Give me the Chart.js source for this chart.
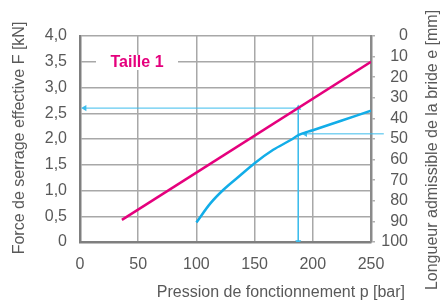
<!DOCTYPE html>
<html>
<head>
<meta charset="utf-8">
<script src="https://cdn.jsdelivr.net/npm/chart.js@4.4.1/dist/chart.umd.min.js"></script>
<style>
  html, body { margin: 0; padding: 0; background: #fff; }
  #wrap { width: 441px; height: 302px; }
</style>
</head>
<body>
<div id="wrap"><canvas id="chart"></canvas></div>
<script>
// ---- données ----
const forcePoints = [{ x: 36, y: 0.43 }, { x: 250, y: 3.5 }];          // Taille 1, F [kN]
const lengthCurveP = [100, 112, 123, 138, 150, 166, 181, 188, 200, 225, 250];
const lengthCurveF = [0.38, 0.75, 1.01, 1.30, 1.53, 1.79, 1.98, 2.08, 2.17, 2.36, 2.55];
const readP = 187.5;        // pression de lecture [bar]
const readF = 2.6;          // force lue [kN]
const readE = 47.5;         // longueur de bride [mm]
const pressureTicks = [0, 50, 100, 150, 200, 250];
const forceTicks = [0, 0.5, 1, 1.5, 2, 2.5, 3, 3.5, 4];
const lengthTicks = [0, 10, 20, 30, 40, 50, 60, 70, 80, 90, 100];

const magenta = '#e5007d';
const blue = '#12ade8';
const arrowBlue = '#3cbcec';
const textGray = '#595959';

Chart.defaults.font.family = "'Liberation Sans', Arial, sans-serif";
Chart.defaults.color = textGray;

// ---- titres d'axes et étiquette "Taille 1" ----
const overlay = {
  id: 'overlay',
  afterDraw(chart) {
    const { ctx } = chart;
    ctx.save();
    ctx.fillStyle = textGray;
    ctx.font = "16px 'Liberation Sans', Arial, sans-serif";
    ctx.textBaseline = 'middle';

    ctx.textAlign = 'right';
    ctx.fillText('Pression de fonctionnement p [bar]', 405, 293);

    ctx.textAlign = 'center';
    ctx.save();
    ctx.translate(20, 138);
    ctx.rotate(-Math.PI / 2);
    ctx.fillText('Force de serrage effective F [kN]', 0, 0);
    ctx.restore();

    ctx.save();
    ctx.translate(433, 150);
    ctx.rotate(-Math.PI / 2);
    ctx.fillText('Longueur admissible de la bride e [mm]', 0, 0);
    ctx.restore();

    // étiquette sur fond blanc (coupe la grille 3,5)
    ctx.fillStyle = '#fff';
    ctx.fillRect(96, 55, 82, 15);
    ctx.fillStyle = magenta;
    ctx.font = "bold 16px 'Liberation Sans', Arial, sans-serif";
    ctx.fillText('Taille 1', 137, 63);
    ctx.restore();
  }
};

const fmtForce = (v) => (v === 0 ? '0' : v.toFixed(1).replace('.', ','));

const arrow = (points, radii, rotations, axis, clip) => ({
  data: points,
  borderColor: arrowBlue,
  backgroundColor: arrowBlue,
  borderWidth: 1,
  pointStyle: 'triangle',
  pointRadius: radii,
  pointRotation: rotations,
  pointBorderWidth: 0,
  yAxisID: axis,
  clip: clip,
  order: 3,
});

new Chart(document.getElementById('chart'), {
  type: 'line',
  data: {
    datasets: [
      {
        label: 'Taille 1',
        data: forcePoints,
        borderColor: magenta,
        borderWidth: 2.5,
        pointRadius: 0,
        yAxisID: 'y',
        order: 1,
      },
      {
        label: 'Longueur e',
        data: lengthCurveP.map((p, i) => ({ x: p, y: lengthCurveF[i] })),
        borderColor: blue,
        borderWidth: 2.5,
        pointRadius: 0,
        cubicInterpolationMode: 'monotone',
        yAxisID: 'y',
        order: 2,
      },
      // flèche verticale (double)
      arrow([{ x: readP, y: readF }, { x: readP, y: 0 }], [3.5, 3.5], [0, 180], 'y', true),
      // flèche horizontale vers l'axe F
      arrow([{ x: readP, y: readF }, { x: 4, y: readF }], [0, 3.5], [0, 270], 'y', true),
      // flèche depuis l'axe e
      arrow([{ x: 261, y: readE }, { x: 193.5, y: readE }], [0, 3.5], [0, 270], 'y2', false),
    ],
  },
  options: {
    responsive: true,
    maintainAspectRatio: false,
    animation: false,
    layout: { padding: { top: 36, left: 0, right: 33, bottom: 0 } },
    plugins: { legend: { display: false }, tooltip: { enabled: false } },
    scales: {
      x: {
        type: 'linear',
        min: 0,
        max: 250,
        afterFit: (s) => { s.height = 60; },
        afterBuildTicks: (s) => { s.ticks = pressureTicks.map((v) => ({ value: v })); },
        ticks: { padding: 13, font: { size: 16 }, color: textGray, autoSkip: false, maxRotation: 0 },
        grid: { color: '#a8a8a8', lineWidth: 1.5, drawTicks: false },
        border: { color: '#7f7f7f', width: 2.5 },
      },
      y: {
        type: 'linear',
        position: 'left',
        min: 0,
        max: 4,
        afterFit: (s) => { s.width = 80; },
        afterBuildTicks: (s) => { s.ticks = forceTicks.map((v) => ({ value: v })); },
        ticks: { padding: 13, font: { size: 16 }, color: textGray, autoSkip: false, callback: fmtForce },
        grid: { color: '#a8a8a8', lineWidth: 1.5, drawTicks: false },
        border: { color: '#7f7f7f', width: 2.5 },
      },
      y2: {
        type: 'linear',
        position: 'right',
        reverse: true,
        min: 0,
        max: 100,
        afterFit: (s) => { s.width = 37; },
        afterBuildTicks: (s) => { s.ticks = lengthTicks.map((v) => ({ value: v })); },
        ticks: { padding: 3, crossAlign: 'far', font: { size: 16 }, color: textGray, autoSkip: false },
        grid: { drawOnChartArea: false, color: '#b0b0b0', tickLength: 4, lineWidth: 1.5 },
        border: { color: '#8a8a8a', width: 2.5 },
      },
    },
  },
  plugins: [overlay],
});
</script>
</body>
</html>
